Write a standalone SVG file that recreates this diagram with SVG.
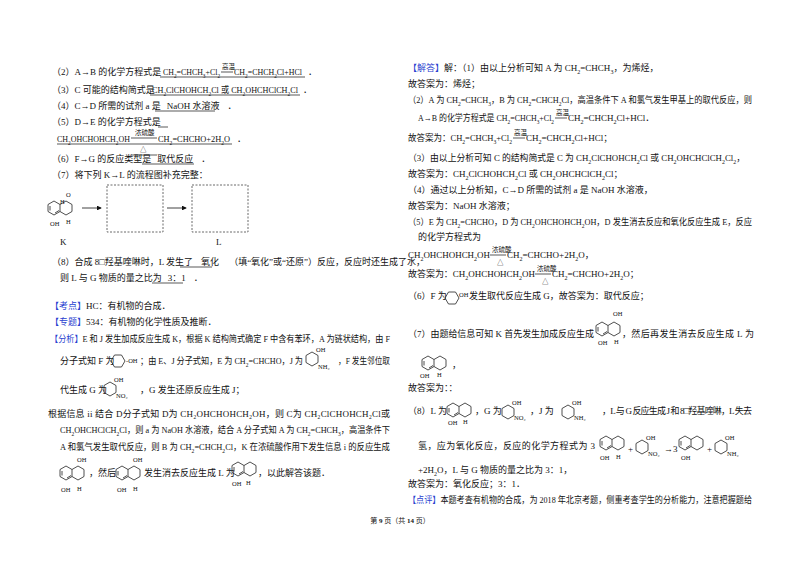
<svg xmlns="http://www.w3.org/2000/svg" xmlns:xlink="http://www.w3.org/1999/xlink" width="800" height="565" viewBox="0 0 800 565">
<style>
text{font-family:"Liberation Serif","Noto Sans CJK SC",serif;font-size:9px;fill:#111}
.b{fill:#2a3fd0}
.s{font-size:6px}
.u{stroke:#111;stroke-width:0.7}
.m{fill:none;stroke:#222;stroke-width:0.8}
.sm{font-size:6.5px}
</style>
<defs>
<g id="hex"><path class="m" d="M6,0 L12,3.5 L12,10.5 L6,14 L0,10.5 L0,3.5Z"/></g>
<g id="bic"><path class="m" d="M6,0 L12,3.5 L12,10.5 L6,14 L0,10.5 L0,3.5Z M12,3.5 L18,0 L24,3.5 L24,10.5 L18,14 L12,10.5 M2,5 L2,9.5 M7,12 L11,9.5"/></g>
<marker id="ar" markerWidth="6" markerHeight="6" refX="5" refY="3" orient="auto"><path d="M0,0 L6,3 L0,6Z" fill="#111"/></marker>
</defs>
<rect width="800" height="565" fill="#fff"/>

<g id="left">
<text x="52" y="75">（2）A→B 的化学方程式是</text>
<text x="163" y="75" textLength="57" lengthAdjust="spacingAndGlyphs">CH<tspan class="s" baseline-shift="sub">2</tspan>=CHCH<tspan class="s" baseline-shift="sub">3</tspan>+Cl<tspan class="s" baseline-shift="sub">2</tspan></text>
<text x="222" y="69" class="sm">高温</text><line class="u" x1="221" y1="72" x2="233" y2="72"/>
<text x="234" y="75" textLength="68" lengthAdjust="spacingAndGlyphs">CH<tspan class="s" baseline-shift="sub">2</tspan>=CHCH<tspan class="s" baseline-shift="sub">2</tspan>Cl+HCl</text>
<text x="308" y="75">．</text>
<line class="u" x1="160" y1="77" x2="305" y2="77"/>
<text x="52" y="93">（3）C 可能的结构简式是</text>
<text x="152" y="93" textLength="146" lengthAdjust="spacingAndGlyphs">CH<tspan class="s" baseline-shift="sub">2</tspan>ClCHOHCH<tspan class="s" baseline-shift="sub">2</tspan>Cl 或 CH<tspan class="s" baseline-shift="sub">2</tspan>OHCHClCH<tspan class="s" baseline-shift="sub">2</tspan>Cl</text>
<text x="303" y="93">．</text>
<line class="u" x1="150" y1="95" x2="300" y2="95"/>
<text x="52" y="109">（4）C→D 所需的试剂 a 是<tspan dx="6">NaOH 水溶液</tspan><tspan dx="8">．</tspan></text>
<line class="u" x1="155" y1="111" x2="215" y2="111"/>
<text x="52" y="125">（5）D→E 的化学方程式是</text>
<line class="u" x1="158" y1="127" x2="168" y2="127"/>
<text x="57" y="142" textLength="73" lengthAdjust="spacingAndGlyphs">CH<tspan class="s" baseline-shift="sub">2</tspan>OHCHOHCH<tspan class="s" baseline-shift="sub">2</tspan>OH</text>
<text x="135" y="135" class="sm">浓硫酸</text><text x="140" y="152" class="sm">△</text>
<line class="u" x1="131" y1="138" x2="157" y2="138"/>
<text x="158" y="142" textLength="72" lengthAdjust="spacingAndGlyphs">CH<tspan class="s" baseline-shift="sub">2</tspan>=CHCHO+2H<tspan class="s" baseline-shift="sub">2</tspan>O</text>
<text x="237" y="142">．</text>
<line class="u" x1="57" y1="144" x2="232" y2="144"/>
<line class="u" x1="131" y1="155" x2="157" y2="155"/>
<text x="52" y="162">（6）F→G 的反应类型是<tspan dx="6">取代反应</tspan><tspan dx="8">．</tspan></text>
<line class="u" x1="142" y1="164" x2="194" y2="164"/>
<text x="52" y="178">（7）将下列 K→L 的流程图补充完整：</text>
<use xlink:href="#bic" x="48" y="201"/>
<text x="66" y="197" class="sm">O</text>
<text x="50" y="226" class="sm">OH</text><text x="66" y="224" class="sm">H</text><text x="60" y="204" class="sm">H</text>
<line x1="82" y1="208" x2="101" y2="208" stroke="#111" stroke-width="0.8" marker-end="url(#ar)"/>
<rect x="107" y="185" width="56" height="47" fill="none" stroke="#444" stroke-width="0.8" stroke-dasharray="2,1.5"/>
<line x1="167" y1="208" x2="186" y2="208" stroke="#111" stroke-width="0.8" marker-end="url(#ar)"/>
<rect x="192" y="185" width="56" height="47" fill="none" stroke="#444" stroke-width="0.8" stroke-dasharray="2,1.5"/>
<text x="60" y="245">K</text><text x="216" y="245">L</text>
<text x="52" y="265">（8）合成 8□羟基喹啉时，L 发生了<tspan dx="8">氧化</tspan><tspan dx="10">（填“氧化”或“还原”）反应，反应时还生成了水，</tspan></text>
<line class="u" x1="180" y1="267" x2="212" y2="267"/>
<text x="60" y="281">则 L 与 G 物质的量之比为<tspan dx="6">3：1</tspan><tspan dx="8">．</tspan></text>
<line class="u" x1="152" y1="283" x2="183" y2="283"/>

<text x="50" y="309"><tspan class="b">【考点】</tspan>HC：有机物的合成．</text>
<text x="50" y="325"><tspan class="b">【专题】</tspan>534：有机物的化学性质及推断．</text>
<text x="50" y="342" textLength="340" lengthAdjust="spacingAndGlyphs"><tspan class="b">【分析】</tspan>E 和 J 发生加成反应生成 K，根据 K 结构简式确定 F 中含有苯环，A 为链状结构，由 F</text>
<text x="60" y="364">分子式知 F 为</text>
<use xlink:href="#hex" x="112" y="354" transform="rotate(90 118 361)"/><text x="126" y="363" class="sm">-OH</text>
<text x="140" y="364" textLength="163" lengthAdjust="spacingAndGlyphs">；由 E、J 分子式知，E 为 CH<tspan class="s" baseline-shift="sub">2</tspan>=CHCHO，J 为</text>
<use xlink:href="#hex" x="306" y="352"/><text x="316" y="352" class="sm">OH</text><text x="318" y="369" class="sm">NH₂</text>
<text x="338" y="364" textLength="52" lengthAdjust="spacingAndGlyphs">，F 发生邻位取</text>
<text x="60" y="393">代生成 G 为</text>
<use xlink:href="#hex" x="104" y="382"/><text x="114" y="382" class="sm">OH</text><text x="116" y="398" class="sm">NO₂</text>
<text x="140" y="393">，G 发生还原反应生成 J；</text>
<text x="48" y="417" textLength="342" lengthAdjust="spacing">根据信息 ii 结合 D分子式知 D为 CH₂OHCHOHCH₂OH，则 C为 CH₂ClCHOHCH₂Cl或</text>
<text x="60" y="433" textLength="330" lengthAdjust="spacingAndGlyphs">CH<tspan class="s" baseline-shift="sub">2</tspan>OHCHClCH<tspan class="s" baseline-shift="sub">2</tspan>Cl，则 a 为 NaOH 水溶液，结合 A 分子式知 A 为 CH<tspan class="s" baseline-shift="sub">2</tspan>=CHCH<tspan class="s" baseline-shift="sub">3</tspan>，高温条件下</text>
<text x="60" y="450" textLength="330" lengthAdjust="spacingAndGlyphs">A 和氯气发生取代反应，则 B 为 CH<tspan class="s" baseline-shift="sub">2</tspan>=CHCH<tspan class="s" baseline-shift="sub">2</tspan>Cl，K 在浓硫酸作用下发生信息 i 的反应生成</text>
<use xlink:href="#bic" x="60" y="466"/><text x="77" y="462" class="sm">OH</text><text x="61" y="492" class="sm">OH</text><text x="77" y="491" class="sm">H</text>
<text x="89" y="476">，然后</text>
<use xlink:href="#bic" x="116" y="466"/><text x="133" y="462" class="sm">OH</text><text x="117" y="492" class="sm">OH</text><text x="133" y="491" class="sm">H</text>
<text x="144" y="476">发生消去反应生成 L 为</text>
<use xlink:href="#bic" x="232" y="462"/><text x="232" y="486" class="sm">OH</text><text x="246" y="485" class="sm">H</text>
<text x="258" y="476">，以此解答该题．</text>
</g>

<g id="right">
<text x="408" y="71"><tspan class="b">【解答】</tspan>解：（1）由以上分析可知 A 为 CH<tspan class="s" baseline-shift="sub">2</tspan>=CHCH<tspan class="s" baseline-shift="sub">3</tspan>，为烯烃，</text>
<text x="408" y="87">故答案为：烯烃；</text>
<text x="408" y="103" textLength="344" lengthAdjust="spacingAndGlyphs">（2）A 为 CH<tspan class="s" baseline-shift="sub">2</tspan>=CHCH<tspan class="s" baseline-shift="sub">3</tspan>，B 为 CH<tspan class="s" baseline-shift="sub">2</tspan>=CHCH<tspan class="s" baseline-shift="sub">2</tspan>Cl，高温条件下 A 和氯气发生甲基上的取代反应，则</text>
<text x="418" y="121" textLength="136" lengthAdjust="spacingAndGlyphs">A→B 的化学方程式是 CH<tspan class="s" baseline-shift="sub">2</tspan>=CHCH<tspan class="s" baseline-shift="sub">3</tspan>+Cl<tspan class="s" baseline-shift="sub">2</tspan></text>
<text x="556" y="115" class="sm">高温</text><line class="u" x1="555" y1="118" x2="567" y2="118"/>
<text x="568" y="121">CH<tspan class="s" baseline-shift="sub">2</tspan>=CHCH<tspan class="s" baseline-shift="sub">2</tspan>Cl+HCl．</text>
<text x="408" y="141" textLength="104" lengthAdjust="spacingAndGlyphs">故答案为：CH<tspan class="s" baseline-shift="sub">2</tspan>=CHCH<tspan class="s" baseline-shift="sub">3</tspan>+Cl<tspan class="s" baseline-shift="sub">2</tspan></text>
<text x="514" y="135" class="sm">高温</text><line class="u" x1="513" y1="138" x2="525" y2="138"/>
<text x="526" y="141">CH<tspan class="s" baseline-shift="sub">2</tspan>=CHCH<tspan class="s" baseline-shift="sub">2</tspan>Cl+HCl；</text>
<text x="408" y="161" textLength="337" lengthAdjust="spacingAndGlyphs">（3）由以上分析可知 C 的结构简式是 C 为 CH<tspan class="s" baseline-shift="sub">2</tspan>ClCHOHCH<tspan class="s" baseline-shift="sub">2</tspan>Cl 或 CH<tspan class="s" baseline-shift="sub">2</tspan>OHCHClCH<tspan class="s" baseline-shift="sub">2</tspan>Cl<tspan class="s" baseline-shift="sub">2</tspan>，</text>
<text x="408" y="177">故答案为：CH<tspan class="s" baseline-shift="sub">2</tspan>ClCHOHCH<tspan class="s" baseline-shift="sub">2</tspan>Cl 或 CH<tspan class="s" baseline-shift="sub">2</tspan>OHCHClCH<tspan class="s" baseline-shift="sub">2</tspan>Cl；</text>
<text x="408" y="193">（4）通过以上分析知，C→D 所需的试剂 a 是 NaOH 水溶液，</text>
<text x="408" y="209">故答案为：NaOH 水溶液；</text>
<text x="408" y="225" textLength="344" lengthAdjust="spacingAndGlyphs">（5）E 为 CH<tspan class="s" baseline-shift="sub">2</tspan>=CHCHO，D 为 CH<tspan class="s" baseline-shift="sub">2</tspan>OHCHOHCH<tspan class="s" baseline-shift="sub">2</tspan>OH，D 发生消去反应和氧化反应生成 E，反应</text>
<text x="418" y="240">的化学方程式为</text>
<text x="408" y="258" textLength="82" lengthAdjust="spacingAndGlyphs">CH<tspan class="s" baseline-shift="sub">2</tspan>OHCHOHCH<tspan class="s" baseline-shift="sub">2</tspan>OH</text>
<text x="492" y="252" class="sm">浓硫酸</text><text x="497" y="265" class="sm">△</text><line class="u" x1="490" y1="255" x2="506" y2="255"/>
<text x="507" y="258">CH<tspan class="s" baseline-shift="sub">2</tspan>=CHCHO+2H<tspan class="s" baseline-shift="sub">2</tspan>O，</text>
<text x="408" y="277" textLength="127" lengthAdjust="spacingAndGlyphs">故答案为：CH<tspan class="s" baseline-shift="sub">2</tspan>OHCHOHCH<tspan class="s" baseline-shift="sub">2</tspan>OH</text>
<text x="537" y="271" class="sm">浓硫酸</text><text x="542" y="284" class="sm">△</text><line class="u" x1="535" y1="274" x2="551" y2="274"/>
<text x="552" y="277">CH<tspan class="s" baseline-shift="sub">2</tspan>=CHCHO+2H<tspan class="s" baseline-shift="sub">2</tspan>O；</text>
<text x="408" y="299">（6）F 为</text>
<use xlink:href="#hex" x="446" y="291" transform="rotate(90 452 298)"/><text x="459" y="297" class="sm">OH</text>
<text x="469" y="299">发生取代反应生成 G，故答案为：取代反应；</text>
<text x="408" y="337" textLength="186" lengthAdjust="spacing">（7）由题给信息可知 K 首先发生加成反应生成</text>
<use xlink:href="#bic" x="596" y="322"/><text x="613" y="316" class="sm">OH</text><text x="598" y="345" class="sm">OH</text><text x="614" y="344" class="sm">H</text>
<text x="622" y="337" textLength="132" lengthAdjust="spacing">，然后再发生消去反应生成 L 为</text>
<use xlink:href="#bic" x="422" y="356"/><text x="420" y="378" class="sm">OH</text><text x="437" y="377" class="sm">H</text>
<text x="452" y="368">，</text>
<text x="408" y="391">故答案为：：</text>
<text x="408" y="414">（8）L 为</text>
<use xlink:href="#bic" x="447" y="403"/><text x="448" y="425" class="sm">OH</text><text x="463" y="424" class="sm">H</text>
<text x="475" y="414">，G 为</text>
<use xlink:href="#hex" x="502" y="405"/><text x="512" y="405" class="sm">OH</text><text x="514" y="420" class="sm">NO₂</text>
<text x="530" y="414">，J 为</text>
<use xlink:href="#hex" x="562" y="405"/><text x="572" y="405" class="sm">OH</text><text x="574" y="420" class="sm">NH₂</text>
<text x="602" y="414" textLength="150" lengthAdjust="spacing">，L 与 G 反应生成 J 和 8□羟基喹啉，L 失去</text>
<text x="418" y="449" textLength="177" lengthAdjust="spacing">氢，应为氧化反应，反应的化学方程式为 3</text>
<use xlink:href="#bic" x="600" y="436"/><text x="600" y="460" class="sm">OH</text><text x="616" y="459" class="sm">H</text>
<text x="628" y="452">+</text>
<use xlink:href="#hex" x="636" y="440"/><text x="646" y="440" class="sm">OH</text><text x="648" y="456" class="sm">NO₂</text>
<text x="664" y="452">→3</text>
<use xlink:href="#bic" x="679" y="436"/><text x="681" y="460" class="sm">OH</text>
<text x="707" y="452">+</text>
<use xlink:href="#hex" x="715" y="440"/><text x="725" y="440" class="sm">OH</text><text x="727" y="456" class="sm">NH₂</text>
<text x="418" y="473">+2H<tspan class="s" baseline-shift="sub">2</tspan>O，L 与 G 物质的量之比为 3：1，</text>
<text x="408" y="487">故答案为：氧化反应；3：1．</text>
<text x="408" y="503" textLength="344" lengthAdjust="spacingAndGlyphs"><tspan class="b">【点评】</tspan>本题考查有机物的合成，为 2018 年北京考题，侧重考查学生的分析能力，注意把握题给</text>
</g>
<text x="400" y="523" text-anchor="middle" style="font-size:7px">第 <tspan font-weight="bold">9</tspan> 页（共 <tspan font-weight="bold">14</tspan> 页）</text>
</svg>
